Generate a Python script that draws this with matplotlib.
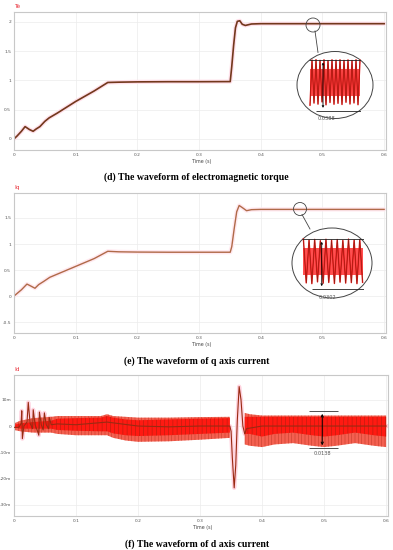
import numpy as np
import matplotlib.pyplot as plt
from matplotlib.patches import Ellipse

plt.rcParams['hatch.linewidth'] = 0.35

# ---- data ----
te_t = [0, 0.005, 0.012, 0.018, 0.025, 0.031, 0.036, 0.042, 0.05, 0.057, 0.07, 0.1, 0.13, 0.152,
        0.17, 0.2, 0.25, 0.3, 0.3505, 0.353, 0.356, 0.359, 0.362, 0.366, 0.370, 0.375, 0.385, 0.4, 0.5, 0.6]
te_v = [0, 0.05, 0.13, 0.21, 0.16, 0.13, 0.17, 0.21, 0.3, 0.36, 0.44, 0.64, 0.82, 0.965,
        0.97, 0.975, 0.978, 0.978, 0.98, 1.24, 1.6, 1.9, 2.01, 2.02, 1.96, 1.94, 1.965, 1.97, 1.97, 1.97]

iq_t = [0, 0.005, 0.012, 0.021, 0.026, 0.034, 0.04, 0.048, 0.058, 0.07, 0.1, 0.13, 0.152,
        0.17, 0.2, 0.25, 0.3, 0.3505, 0.353, 0.357, 0.361, 0.365, 0.370, 0.377, 0.385, 0.4, 0.5, 0.6]
iq_v = [0, 0.05, 0.12, 0.23, 0.2, 0.15, 0.22, 0.28, 0.36, 0.42, 0.57, 0.72, 0.86,
        0.85, 0.845, 0.842, 0.842, 0.842, 0.95, 1.3, 1.62, 1.74, 1.7, 1.64, 1.66, 1.665, 1.665, 1.665]

# d-axis current, in mA
id_t = [0.000, 0.008, 0.0115, 0.0125, 0.0135, 0.016, 0.021, 0.023, 0.026, 0.030, 0.031, 0.034,
        0.038, 0.040, 0.041, 0.044, 0.047, 0.049, 0.052, 0.056, 0.057, 0.060, 0.07, 0.10, 0.15,
        0.20, 0.25, 0.30, 0.348, 0.350, 0.352, 0.355, 0.3575, 0.360, 0.363, 0.366, 0.369, 0.372,
        0.375, 0.40, 0.45, 0.50, 0.55, 0.60]
id_v = [-0.5, -0.5, 1.0, 5.8, -4.8, 0.0, 1.5, 9.0, 1.0, -1.0, 6.2, 0.5,
        -2.0, -3.5, 5.3, 0.5, -1.5, 5.0, 0.5, -1.0, 3.2, 0.5, 0.8, 0.5, 1.5,
        0.0, -0.3, 0.0, 0.0, -2.0, -12.0, -23.5, -15.0, 2.0, 15.0, 10.0, 0.0, -3.0,
        -1.0, 0.0, 0.0, 0.0, 0.0, 0.0]

# ripple band before the step
band1_t = [0.0, 0.01, 0.03, 0.06, 0.07, 0.10, 0.14, 0.15, 0.16, 0.18, 0.20, 0.25, 0.30, 0.348]
band1_out_hi = [1.0, 2.0, 3.0, 3.5, 3.8, 3.8, 3.8, 4.5, 3.8, 3.5, 3.2, 3.2, 3.4, 3.5]
band1_out_lo = [-1.5, -2.0, -2.5, -2.5, -3.0, -3.5, -3.5, -3.5, -4.5, -5.5, -6.0, -5.8, -5.2, -4.5]
band1_in_hi = [0.5, 1.0, 1.5, 2.0, 2.8, 3.0, 3.2, 3.8, 3.2, 2.5, 2.2, 2.5, 2.8, 3.0]
band1_in_lo = [-0.5, -1.0, -1.0, -1.0, -1.5, -1.8, -2.0, -2.0, -2.8, -3.5, -3.8, -3.5, -3.0, -2.5]
# ripple band after the step
band2_t = [0.372, 0.38, 0.40, 0.42, 0.45, 0.48, 0.50, 0.52, 0.55, 0.58, 0.60]
band2_out_hi = [5.0, 4.5, 4.0, 4.0, 4.0, 4.0, 4.0, 4.0, 4.0, 4.0, 4.0]
band2_out_lo = [-7.0, -7.5, -8.0, -7.0, -6.5, -7.5, -8.0, -7.5, -6.5, -7.5, -8.0]
band2_in_hi = [3.5, 3.5, 3.5, 3.5, 3.5, 3.5, 3.5, 3.5, 3.5, 3.5, 3.5]
band2_in_lo = [-3.0, -3.0, -4.0, -3.0, -2.5, -3.5, -4.0, -3.5, -2.5, -3.5, -4.0]

# zoomed ripple samples in the circles
inset_te = [1.9512, 1.9898, 1.9530, 1.9901, 1.9521, 1.9895, 1.9540, 1.9900, 1.9515, 1.9893,
            1.9535, 1.9900, 1.9520, 1.9897, 1.9528, 1.9900, 1.9518, 1.9895, 1.9537, 1.9899,
            1.9522, 1.9894, 1.9531, 1.9900, 1.9516, 1.9896]
inset_iq = [1.6802, 1.6505, 1.6795, 1.6500, 1.6799, 1.6512, 1.6790, 1.6503, 1.6800, 1.6508,
            1.6793, 1.6501, 1.6798, 1.6510, 1.6792, 1.6504, 1.6801, 1.6507, 1.6795, 1.6500,
            1.6797, 1.6509]

x_ticks = [0, 0.1, 0.2, 0.3, 0.4, 0.5, 0.6]
x_labels = ['0', '0.1', '0.2', '0.3', '0.4', '0.5', '0.6']
te_ticks = [0, 0.5, 1, 1.5, 2]
te_labels = ['0', '0.5', '1', '1.5', '2']
iq_ticks = [-0.5, 0, 0.5, 1, 1.5]
iq_labels = ['-0.5', '0', '0.5', '1', '1.5']
id_ticks = [-30, -20, -10, 0, 10]
id_labels = ['-30m', '-20m', '-10m', '0', '10m']

W, H = 393, 550
fig = plt.figure(figsize=(W / 100, H / 100), dpi=100)


def rect(l, t, r, b):
    return [l / W, 1 - b / H, (r - l) / W, (b - t) / H]


def style(ax, yt, yl, ylim, name, cap):
    ax.set_xlim(0, 0.603)
    ax.set_ylim(*ylim)
    ax.set_xticks(x_ticks)
    ax.set_xticklabels(x_labels)
    ax.set_yticks(yt)
    ax.set_yticklabels(yl)
    ax.tick_params(length=0, labelsize=3.2, labelcolor='#555555', pad=2)
    ax.grid(color='#ececec', lw=0.5)
    ax.set_axisbelow(True)
    for s in ax.spines.values():
        s.set_color('#c8c8c8')
        s.set_linewidth(0.8)
    ax.text(0.0, 1.02, name, transform=ax.transAxes, color='#e8303a', fontsize=4.2, va='bottom')
    ax.text(0.505, -0.085, 'Time (s)', transform=ax.transAxes, fontsize=3.4, color='#444444',
            ha='center', va='center')
    ax.text(0.49, -0.2, cap, transform=ax.transAxes, fontsize=7, fontweight='bold',
            family='Liberation Serif', ha='center', va='center')


# panel d: torque
ax1 = fig.add_axes(rect(14, 12, 386, 150))
ax1.plot(te_t, te_v, color='#ffe0ea', lw=3.0, solid_capstyle='round')
ax1.plot(te_t, te_v, color='#73381c', lw=1.2)
style(ax1, te_ticks, te_labels, (-0.19, 2.17), 'Te', '(d) The waveform of electromagnetic torque')

# panel e: q current
ax2 = fig.add_axes(rect(14, 193, 386, 333))
ax2.plot(iq_t, iq_v, color='#ffe8ef', lw=3.0, solid_capstyle='round')
ax2.plot(iq_t, iq_v, color='#b06a48', lw=1.0)
style(ax2, iq_ticks, iq_labels, (-0.71, 1.98), 'Iq', '(e) The waveform of q axis current')

# panel f: d current
ax3 = fig.add_axes(rect(14, 375, 388, 516))
ax3.plot(id_t, id_v, color='#ffc8d8', lw=3.0, alpha=0.8, zorder=1.5)
for bt, olo, ohi, ilo, ihi in [(band1_t, band1_out_lo, band1_out_hi, band1_in_lo, band1_in_hi),
                               (band2_t, band2_out_lo, band2_out_hi, band2_in_lo, band2_in_hi)]:
    ax3.fill_between(bt, olo, ohi, facecolor='#f46050', edgecolor='#c03a28', hatch='|||||', lw=0, zorder=2)
    ax3.fill_between(bt, ilo, ihi, facecolor='#ff1a12', edgecolor='#a8200e', hatch='||||', lw=0, zorder=2)
ax3.plot(id_t, id_v, color='#9a2a12', lw=0.8, zorder=3)
style(ax3, id_ticks, id_labels, (-34.2, 19.4), 'Id', '(f) The waveform of d axis current')
ax3.annotate('', xy=(0.497, 5.7), xytext=(0.497, -8.4),
             arrowprops=dict(arrowstyle='<->', color='black', lw=0.7, mutation_scale=4), zorder=4)
ax3.hlines([5.7, -8.4], 0.475, 0.522, color='#333333', lw=0.6, zorder=4)
ax3.text(0.497, -10.5, '0.0138', fontsize=3.6, color='#555555', ha='center', va='center')

# overlay for the magnifier circles
ov = fig.add_axes([0, 0, 1, 1], zorder=5)
ov.set_xlim(0, W)
ov.set_ylim(H, 0)
ov.axis('off')


def magnifier(cx, cy, r, ex, ey, ew, eh, x2):
    ov.add_patch(Ellipse((cx, cy), 2 * r, 2 * r, fill=False, ec='#444444', lw=0.6))
    ov.plot([cx + 2, x2], [cy + r - 1, ey - eh / 2 + 1], color='#444444', lw=0.6)
    ov.add_patch(Ellipse((ex, ey), ew, eh, fc='white', ec='#444444', lw=0.7))


magnifier(313, 25, 7, 335, 85, 76, 67, 318)
magnifier(300, 209, 6.5, 332, 263, 80, 70, 310)


def ripple(box, vals, lab, ylim):
    ia = fig.add_axes(rect(*box), zorder=6)
    n = list(range(len(vals)))
    lo, hi = min(vals), max(vals)
    ia.fill_between(n, lo + (hi - lo) * 0.2, hi - (hi - lo) * 0.2, color='#ff5050', lw=0)
    ia.plot(n, vals, color='#e81818', lw=1.0)
    ia.plot(n, vals, color='#7a2010', lw=0.3)
    ia.set_xlim(-0.5, len(vals) - 0.5)
    ia.set_ylim(*ylim)
    ia.hlines(hi, -0.5, len(vals) - 0.5, color='#222222', lw=0.6)
    ia.hlines(lo - (hi - lo) * 0.12, 3, len(vals) - 0.5, color='#222222', lw=0.6)
    ia.annotate('', xy=(6.5, hi), xytext=(6.5, lo - (hi - lo) * 0.12),
                arrowprops=dict(arrowstyle='<->', color='black', lw=0.6, mutation_scale=3))
    ia.text(8.5, lo - (hi - lo) * 0.3, lab, fontsize=3.6, color='#555555', ha='center', va='center')
    ia.axis('off')


ripple((309, 58, 361, 116), inset_te, '0.0388', (1.942, 1.9915))
ripple((302, 237, 364, 297), inset_iq, '0.0302', (1.641, 1.6815))

fig.savefig('out.png', dpi=100)
